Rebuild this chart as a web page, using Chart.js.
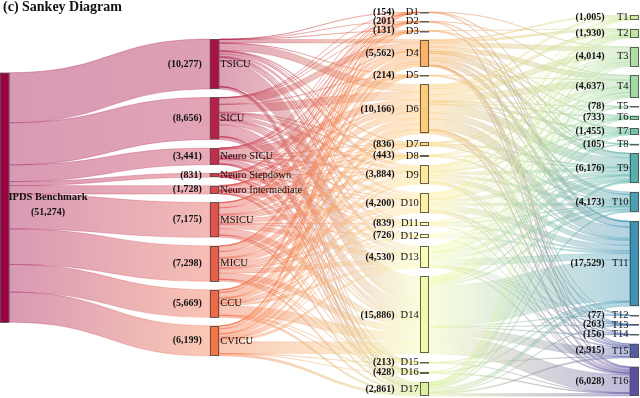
<!DOCTYPE html>
<html>
<head>
<meta charset="utf-8">
<script src="https://cdn.jsdelivr.net/npm/chart.js@4.4.1/dist/chart.umd.min.js"></script>
<style>
  html, body { margin: 0; padding: 0; background: #fff; }
  #wrap { width: 640px; height: 398px; }
</style>
</head>
<body>
<div id="wrap"><canvas id="sankey" width="640" height="398"></canvas></div>
<script>
// node values
const sourceName = 'IPDS Benchmark';
const sourceValue = 51274;
const icuNames = ['TSICU', 'SICU', 'Neuro SICU', 'Neuro Stepdown', 'Neuro Intermediate', 'MSICU', 'MICU', 'CCU', 'CVICU'];
const icuValues = [10277, 8656, 3441, 831, 1728, 7175, 7298, 5669, 6199];
const dNames = ['D1', 'D2', 'D3', 'D4', 'D5', 'D6', 'D7', 'D8', 'D9', 'D10', 'D11', 'D12', 'D13', 'D14', 'D15', 'D16', 'D17'];
const dValues = [154, 201, 131, 5562, 214, 10166, 836, 443, 3884, 4200, 839, 726, 4530, 15886, 213, 428, 2861];
const tNames = ['T1', 'T2', 'T3', 'T4', 'T5', 'T6', 'T7', 'T8', 'T9', 'T10', 'T11', 'T12', 'T13', 'T14', 'T15', 'T16'];
const tValues = [1005, 1930, 4014, 4637, 78, 733, 1455, 105, 6176, 4173, 17529, 77, 263, 156, 2915, 6028];

// estimated flows ICU -> D (one row per ICU, columns D1..D17)
const icuToD = [
    [30, 40, 25, 700, 40, 1500, 150, 60, 500, 500, 150, 120, 700, 5200, 40, 80, 442],
    [25, 35, 20, 1300, 35, 1600, 140, 70, 500, 700, 150, 120, 900, 2400, 35, 70, 556],
    [10, 10, 8, 200, 10, 1400, 40, 30, 250, 150, 40, 30, 150, 900, 10, 20, 183],
    [3, 4, 3, 60, 4, 380, 10, 8, 60, 40, 10, 8, 40, 150, 4, 6, 41],
    [5, 6, 4, 120, 6, 750, 20, 15, 120, 90, 20, 15, 90, 350, 6, 12, 99],
    [25, 30, 20, 1000, 35, 1300, 150, 80, 700, 900, 150, 130, 850, 1300, 35, 70, 400],
    [25, 35, 20, 1100, 35, 1200, 150, 80, 800, 1000, 150, 140, 900, 1200, 35, 70, 358],
    [15, 20, 15, 500, 25, 1100, 90, 50, 450, 400, 80, 80, 450, 1950, 24, 50, 370],
    [16, 21, 16, 582, 24, 936, 86, 50, 504, 420, 89, 83, 450, 2436, 24, 50, 412],
];

// estimated flows D -> T (one row per D, columns T1..T16)
const dToT = [
    [0, 0, 40, 0, 0, 0, 0, 0, 50, 0, 64, 0, 0, 0, 0, 0],
    [0, 0, 0, 60, 0, 0, 0, 0, 0, 0, 100, 0, 0, 0, 0, 41],
    [0, 30, 0, 0, 0, 0, 0, 0, 50, 0, 51, 0, 0, 0, 0, 0],
    [200, 400, 900, 900, 15, 150, 250, 20, 900, 500, 1000, 10, 30, 20, 100, 167],
    [0, 0, 0, 50, 0, 0, 0, 0, 0, 60, 104, 0, 0, 0, 0, 0],
    [300, 600, 1200, 1300, 20, 200, 400, 30, 1800, 1200, 2200, 15, 60, 40, 300, 501],
    [0, 0, 100, 120, 0, 0, 0, 0, 200, 150, 266, 0, 0, 0, 0, 0],
    [0, 50, 0, 80, 0, 0, 0, 0, 100, 0, 213, 0, 0, 0, 0, 0],
    [100, 200, 400, 450, 0, 80, 150, 0, 600, 450, 1000, 0, 20, 0, 150, 284],
    [100, 200, 400, 500, 10, 80, 150, 0, 700, 500, 1100, 0, 20, 10, 150, 280],
    [0, 0, 100, 100, 0, 0, 0, 0, 150, 120, 300, 0, 0, 0, 0, 69],
    [0, 60, 0, 100, 0, 0, 0, 0, 120, 100, 300, 0, 0, 0, 0, 46],
    [100, 150, 400, 500, 10, 80, 150, 15, 800, 500, 1300, 10, 30, 20, 200, 265],
    [155, 140, 274, 227, 23, 103, 255, 40, 306, 343, 8411, 42, 83, 66, 1715, 3703],
    [0, 0, 0, 0, 0, 0, 0, 0, 0, 0, 120, 0, 0, 0, 50, 43],
    [0, 0, 0, 0, 0, 0, 0, 0, 100, 0, 200, 0, 0, 0, 0, 128],
    [50, 100, 200, 250, 0, 40, 100, 0, 300, 250, 800, 0, 20, 0, 250, 501],
];

// layout / style settings
const NODE_W = 0.045;      // node width in x units (columns are 1 unit apart)
const NODE_PAD = 1725;     // gap between nodes, in value units
const LINK_ALPHA = 0.4;
const LINK_EDGE_ALPHA = 0.55;
const COLUMN_PLACE = [
    { center: 0.483 },
    { center: 0.483 },
    { top: 0, bottom: 1 },
    { top: 0.008, bottom: 1 },
];
const SPECTRAL = ['#9e0142', '#d53e4f', '#f46d43', '#fdae61', '#fee08b', '#ffffbf',
    '#e6f598', '#abdda4', '#66c2a5', '#3288bd', '#5e4fa2'];

function hexRgb(h) {
    return [1, 3, 5].map(i => parseInt(h.slice(i, i + 2), 16));
}
function spectral(t) {
    const p = t * (SPECTRAL.length - 1);
    const i = Math.min(Math.floor(p), SPECTRAL.length - 2);
    const f = p - i;
    const a = hexRgb(SPECTRAL[i]), b = hexRgb(SPECTRAL[i + 1]);
    return a.map((v, k) => Math.round(v + (b[k] - v) * f));
}
const rgba = (c, a) => `rgba(${c[0]},${c[1]},${c[2]},${a})`;

// build nodes
const columns = [
    { names: [sourceName], values: [sourceValue] },
    { names: icuNames, values: icuValues },
    { names: dNames, values: dValues },
    { names: tNames, values: tValues },
];
const nodes = [];
columns.forEach((c, col) => c.names.forEach((n, i) => nodes.push({ name: n, value: c.values[i], col })));
nodes.forEach((n, k) => { n.color = spectral(k / (nodes.length - 1)); n.outs = []; n.ins = []; });

const Y_MAX = Math.max(...columns.map(c => c.values.reduce((a, b) => a + b, 0) + (c.values.length - 1) * NODE_PAD));

columns.forEach((c, col) => {
    const list = nodes.filter(n => n.col === col);
    const sum = c.values.reduce((a, b) => a + b, 0);
    const place = COLUMN_PLACE[col];
    let pad = NODE_PAD, y0;
    if (place.center !== undefined) {
        y0 = place.center * Y_MAX - (sum + (list.length - 1) * pad) / 2;
    } else {
        y0 = place.top * Y_MAX;
        pad = list.length > 1 ? ((place.bottom - place.top) * Y_MAX - sum) / (list.length - 1) : 0;
    }
    list.forEach(n => { n.y0 = y0; n.y1 = y0 + n.value; y0 = n.y1 + pad; });
});

// build links
const links = [];
const base1 = 1, base2 = 1 + icuNames.length, base3 = base2 + dNames.length;
icuValues.forEach((v, i) => links.push({ s: 0, t: base1 + i, v }));
icuToD.forEach((row, i) => row.forEach((v, j) => { if (v > 0) links.push({ s: base1 + i, t: base2 + j, v }); }));
dToT.forEach((row, i) => row.forEach((v, j) => { if (v > 0) links.push({ s: base2 + i, t: base3 + j, v }); }));
links.forEach(l => { nodes[l.s].outs.push(l); nodes[l.t].ins.push(l); });
nodes.forEach(n => {
    let o = n.y0;
    n.outs.sort((a, b) => a.t - b.t).forEach(l => { l.sy0 = o; o += l.v; l.sy1 = o; });
    let p = n.y0;
    n.ins.sort((a, b) => a.s - b.s).forEach(l => { l.ty0 = p; p += l.v; l.ty1 = p; });
});

const fmt = v => '(' + v.toLocaleString('en-US') + ')';

const sankeyPlugin = {
    id: 'sankeyLayer',
    beforeDatasetsDraw(chart) {
        const { ctx, scales: { x, y } } = chart;
        ctx.save();
        // links
        links.forEach(l => {
            const sn = nodes[l.s], tn = nodes[l.t];
            const x0 = x.getPixelForValue(sn.col + NODE_W);
            const x1 = x.getPixelForValue(tn.col);
            const xm = (x0 + x1) / 2;
            const a0 = y.getPixelForValue(l.sy0), a1 = y.getPixelForValue(l.sy1);
            const b0 = y.getPixelForValue(l.ty0), b1 = y.getPixelForValue(l.ty1);
            const g = ctx.createLinearGradient(x0, 0, x1, 0);
            g.addColorStop(0, rgba(sn.color, LINK_ALPHA));
            g.addColorStop(1, rgba(tn.color, LINK_ALPHA));
            const e = ctx.createLinearGradient(x0, 0, x1, 0);
            e.addColorStop(0, rgba(sn.color, LINK_EDGE_ALPHA));
            e.addColorStop(1, rgba(tn.color, LINK_EDGE_ALPHA));
            ctx.beginPath();
            ctx.moveTo(x0, a0);
            ctx.bezierCurveTo(xm, a0, xm, b0, x1, b0);
            ctx.lineTo(x1, b1);
            ctx.bezierCurveTo(xm, b1, xm, a1, x0, a1);
            ctx.closePath();
            ctx.fillStyle = g;
            ctx.fill();
            ctx.strokeStyle = e;
            ctx.lineWidth = 0.5;
            ctx.stroke();
        });
        // nodes
        nodes.forEach(n => {
            const px0 = x.getPixelForValue(n.col), px1 = x.getPixelForValue(n.col + NODE_W);
            const py0 = y.getPixelForValue(n.y0), py1 = y.getPixelForValue(n.y1);
            ctx.fillStyle = rgba(n.color, 1);
            ctx.fillRect(px0, py0, px1 - px0, py1 - py0);
            ctx.strokeStyle = 'rgba(80,80,80,0.9)';
            ctx.lineWidth = 1;
            ctx.strokeRect(Math.round(px0) + 0.5, Math.round(py0) + 0.5, Math.round(px1 - px0) - 1, Math.max(Math.round(py1 - py0) - 1, 0.5));
        });
        // labels
        ctx.fillStyle = '#111';
        ctx.textBaseline = 'middle';
        const nameFont = '10.5px "Liberation Serif", "Times New Roman", serif';
        const valFont = 'bold 10px "Liberation Serif", "Times New Roman", serif';
        nodes.forEach(n => {
            const left = x.getPixelForValue(n.col), right = x.getPixelForValue(n.col + NODE_W);
            const cy = (y.getPixelForValue(n.y0) + y.getPixelForValue(n.y1)) / 2;
            if (n.col === 0) {
                ctx.font = 'bold 10.5px "Liberation Serif", "Times New Roman", serif';
                ctx.textAlign = 'left';
                const w = ctx.measureText(n.name).width;
                ctx.fillText(n.name, right - 1, cy);
                ctx.font = valFont;
                ctx.textAlign = 'center';
                ctx.fillText(fmt(n.value), right - 1 + w / 2, cy + 15);
            } else if (n.col === 1) {
                ctx.font = valFont;
                ctx.textAlign = 'right';
                ctx.fillText(fmt(n.value), left - 8, cy);
                ctx.font = nameFont;
                ctx.textAlign = 'left';
                ctx.fillText(n.name, right + 1, cy);
            } else {
                ctx.font = valFont;
                ctx.textAlign = 'right';
                ctx.fillText(fmt(n.value), left - 25, cy);
                ctx.font = nameFont;
                ctx.fillText(n.name, left - 1, cy);
            }
        });
        ctx.restore();
    },
    afterDraw(chart) {
        const ctx = chart.ctx;
        ctx.save();
        ctx.font = 'bold 14px "Liberation Serif", "Times New Roman", serif';
        ctx.fillStyle = '#111';
        ctx.textAlign = 'left';
        ctx.textBaseline = 'alphabetic';
        ctx.fillText('(c) Sankey Diagram', 3, 11);
        ctx.restore();
    }
};

const sankeyChart = new Chart(document.getElementById('sankey').getContext('2d'), {
    type: 'scatter',
    data: { datasets: [{ data: [], pointRadius: 0 }] },
    options: {
        responsive: false,
        animation: false,
        devicePixelRatio: 1,
        layout: { padding: { top: 12, bottom: 2, left: 0, right: 1 } },
        scales: {
            x: { type: 'linear', min: 0, max: 3 + NODE_W, display: false },
            y: { type: 'linear', min: 0, max: Y_MAX, reverse: true, display: false },
        },
        plugins: {
            legend: { display: false },
            tooltip: { enabled: false },
        },
    },
    plugins: [sankeyPlugin],
});
</script>
</body>
</html>
